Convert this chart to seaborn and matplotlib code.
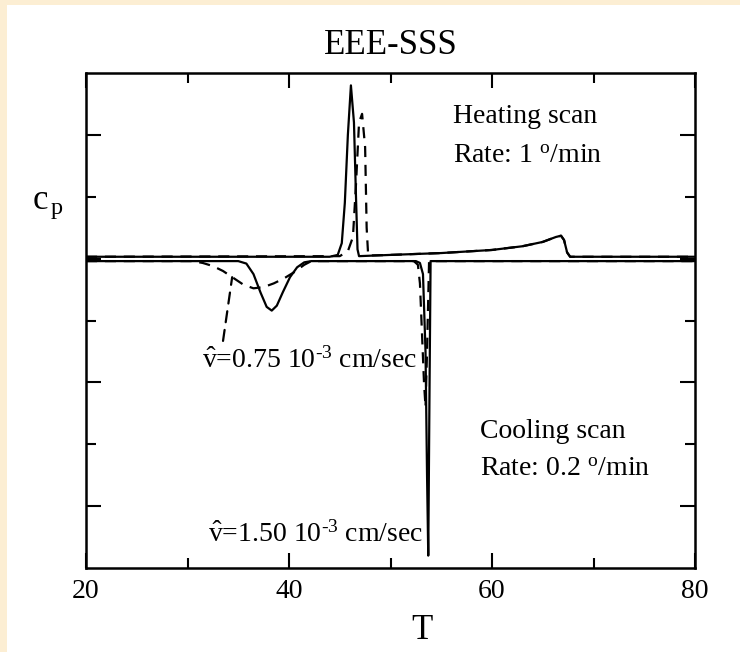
import matplotlib
matplotlib.use('Agg')
import matplotlib.pyplot as plt
import seaborn as sns
from matplotlib.patches import Rectangle

sns.set_theme(style='ticks')
plt.rcParams['font.family'] = ['Liberation Serif', 'DejaVu Serif']
plt.rcParams['mathtext.fontset'] = 'custom'
plt.rcParams['mathtext.rm'] = 'Liberation Serif'
plt.rcParams['mathtext.it'] = 'Liberation Serif:italic'
plt.rcParams['mathtext.bf'] = 'Liberation Serif:bold'
plt.rcParams['text.color'] = 'black'
plt.rcParams['axes.labelcolor'] = 'black'
plt.rcParams['xtick.color'] = 'black'
plt.rcParams['ytick.color'] = 'black'

# ---------------- data ----------------
title = 'EEE-SSS'
x_label = 'T'
y_label = r'$\mathrm{c_{\,p}}$'
x_major = [20, 40, 60, 80]
x_minor = [30, 50, 70]
y_major = [-4, -2, 0, 2]
y_minor = [-3, -1, 1]

# heating scan, v = 1.50e-3 (solid)
heat_solid_T = [20, 44.0, 44.8, 45.2, 45.5, 45.8, 46.1, 46.4, 46.6, 46.75, 46.9,
                50, 55, 60, 63, 65, 66.3, 66.8, 67.1, 67.4, 67.7, 80]
heat_solid_cp = [0.03, 0.03, 0.06, 0.25, 0.9, 2.0, 2.80, 2.2, 1.0, 0.15, 0.04,
                 0.06, 0.09, 0.14, 0.2, 0.27, 0.35, 0.37, 0.3, 0.1, 0.03, 0.03]
# heating scan, v = 0.75e-3 (dashed)
heat_dash_T = [20, 45.0, 45.8, 46.3, 46.6, 46.9, 47.2, 47.5, 47.65, 47.8,
               50, 55, 60, 63, 65, 66.3, 66.8, 67.1, 67.4, 67.7, 80]
heat_dash_cp = [0.03, 0.04, 0.12, 0.35, 1.2, 2.2, 2.34, 1.8, 0.5, 0.05,
                0.06, 0.09, 0.14, 0.2, 0.27, 0.35, 0.37, 0.3, 0.1, 0.03, 0.03]
# cooling scan, v = 1.50e-3 (solid)
cool_solid_T = [20, 35.0, 35.8, 36.5, 37.2, 37.8, 38.3, 38.8, 39.4, 40.1, 40.8, 41.5, 42.2,
                52.5, 52.9, 53.2, 53.45, 53.6, 53.72, 53.85, 53.95, 80]
cool_solid_cp = [-0.04, -0.04, -0.08, -0.25, -0.55, -0.78, -0.84, -0.76, -0.54, -0.3, -0.14, -0.06, -0.04,
                 -0.04, -0.07, -0.25, -1.5, -3.5, -4.8, -2.0, -0.04, -0.04]
# cooling scan, v = 0.75e-3 (dashed)
cool_dash_T = [20, 30.5, 31.5, 32.5, 33.5, 34.5, 35.5, 36.5, 37.5, 38.5, 39.5, 40.5, 41.5, 42.2,
               52.3, 52.7, 52.9, 53.1, 53.3, 53.45, 53.6, 53.8, 80]
cool_dash_cp = [-0.04, -0.04, -0.07, -0.12, -0.2, -0.31, -0.42, -0.48, -0.46, -0.4, -0.32, -0.22, -0.1, -0.04,
                -0.04, -0.1, -0.4, -1.2, -2.0, -2.4, -1.5, -0.04, -0.04]

# ---------------- figure ----------------
fig = plt.figure(figsize=(7.4, 6.52), dpi=100, facecolor='white')
band = '#FCEED3'
fig.patches.append(Rectangle((0, 1 - 5 / 652), 1, 5 / 652, transform=fig.transFigure,
                             facecolor=band, edgecolor='none', zorder=0))
fig.patches.append(Rectangle((0, 0), 7 / 740, 1, transform=fig.transFigure,
                             facecolor=band, edgecolor='none', zorder=0))

ax = fig.add_axes([86 / 740, 84 / 652, 609 / 740, 495 / 652])
ax.set_facecolor('white')

lw = 1.6
dash = (0, (5, 3.5))
sns.lineplot(x=heat_solid_T, y=heat_solid_cp, sort=False, estimator=None, ax=ax,
             color='black', lw=lw)
sns.lineplot(x=heat_dash_T, y=heat_dash_cp, sort=False, estimator=None, ax=ax,
             color='black', lw=lw, linestyle=dash)
sns.lineplot(x=cool_solid_T, y=cool_solid_cp, sort=False, estimator=None, ax=ax,
             color='black', lw=lw)
sns.lineplot(x=cool_dash_T, y=cool_dash_cp, sort=False, estimator=None, ax=ax,
             color='black', lw=lw, linestyle=dash)

ax.set_xlim(20, 80)
ax.set_ylim(-5, 3)
ax.set_xticks(x_major)
ax.set_xticks(x_minor, minor=True)
ax.set_xticklabels([str(v) for v in x_major])
ax.set_yticks(y_major)
ax.set_yticks(y_minor, minor=True)
ax.set_yticklabels([])

ax.tick_params(which='both', direction='in', top=True, right=True, width=1.5,
               color='black')
ax.tick_params(which='major', length=11)
ax.tick_params(which='minor', length=7.2)
ax.tick_params(axis='x', labelsize=20, pad=8, labelcolor='black')
for s in ax.spines.values():
    s.set_linewidth(1.8)
    s.set_color('black')

ax.set_xlabel(x_label, fontsize=25, color='black', va='center')
ax.xaxis.set_label_coords(0.552, -0.127)
ax.set_ylabel(y_label, fontsize=25, rotation=0, color='black', ha='center', va='center')
ax.yaxis.set_label_coords(-0.062, 0.735)

ax.set_title(title, fontsize=25, color='black', y=1.055, va='center', pad=0)

fs = 20
ax.text(56.2, 2.29, 'Heating scan', fontsize=fs, ha='left', va='center', color='black')
ax.text(56.2, 1.65, r'Rate: 1 $^{\mathrm{o}}$/min', fontsize=fs, ha='left', va='center', color='black')
ax.text(58.8, -2.8, 'Cooling scan', fontsize=fs, ha='left', va='center', color='black')
ax.text(58.8, -3.4, r'Rate: 0.2 $^{\mathrm{o}}$/min', fontsize=fs, ha='left', va='center', color='black')
ax.text(31.4, -1.65, r'$\hat{\mathrm{v}}$=0.75 10$^{\text{-3}}$ cm/sec', fontsize=fs,
        ha='left', va='center', color='black')
ax.text(32.0, -4.45, r'$\hat{\mathrm{v}}$=1.50 10$^{\text{-3}}$ cm/sec', fontsize=fs,
        ha='left', va='center', color='black')
ax.annotate('', xy=(34.4, -0.3), xytext=(33.5, -1.33),
            arrowprops=dict(arrowstyle='-', linestyle=dash, lw=lw, color='black',
                            shrinkA=0, shrinkB=0))

fig.savefig('out.png', dpi=100, facecolor=fig.get_facecolor())
